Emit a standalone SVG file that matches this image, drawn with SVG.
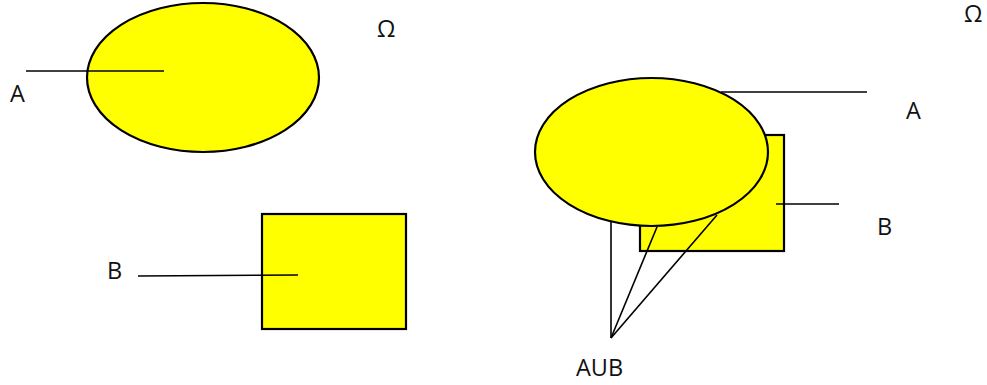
<svg xmlns="http://www.w3.org/2000/svg" width="987" height="385" viewBox="0 0 987 385">
<style>
.shape{fill:#ffff00;stroke:#000;stroke-width:2.2}
.ln{stroke:#000;stroke-width:1.6;fill:none}
text{font-family:"Open Sans","Liberation Sans",sans-serif;font-size:23.5px;fill:#111}
</style>
<rect width="987" height="385" fill="#fff"/>
<g id="left-A"><ellipse class="shape" cx="203" cy="77.5" rx="116" ry="74.5"/></g>
<g id="left-B"><rect class="shape" x="262" y="214" width="144" height="115"/></g>
<g id="right-B"><rect class="shape" x="640" y="135" width="144" height="116"/></g>
<g id="right-A"><ellipse class="shape" cx="651.5" cy="152" rx="116.5" ry="74"/></g>
<g id="connectors">
<line class="ln" x1="26" y1="71" x2="164" y2="71"/>
<line class="ln" x1="138" y1="276" x2="298" y2="275"/>
<line class="ln" x1="721" y1="92" x2="867" y2="92"/>
<line class="ln" x1="776" y1="204" x2="839" y2="204"/>
<line class="ln" x1="611" y1="221" x2="611" y2="338"/>
<line class="ln" x1="657" y1="227" x2="611" y2="338"/>
<line class="ln" x1="717" y1="215" x2="611" y2="338"/>
</g>
<g id="labels">
<text x="10" y="102">A</text>
<text x="377" y="37">Ω</text>
<text x="107" y="279">B</text>
<text x="964" y="22">Ω</text>
<text x="906" y="119">A</text>
<text x="877" y="235">B</text>
<text x="576" y="376">AUB</text>
</g>
</svg>
